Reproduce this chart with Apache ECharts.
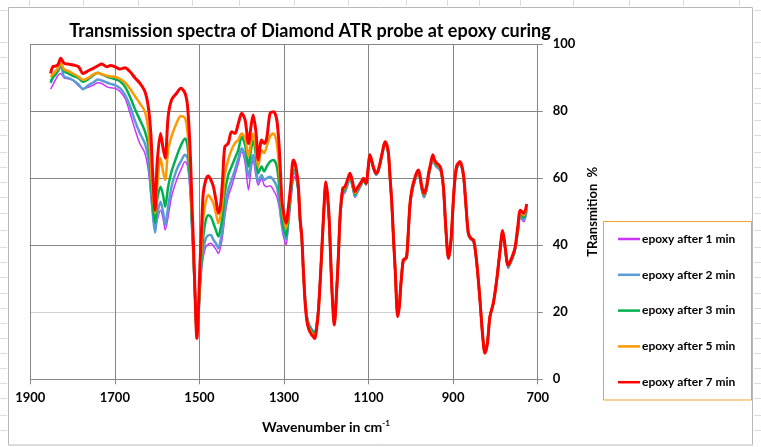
<!DOCTYPE html>
<html><head><meta charset="utf-8">
<script src="https://cdn.jsdelivr.net/npm/echarts@6/dist/echarts.min.js"></script>
<style>html,body{margin:0;padding:0;background:#fff}#c{width:761px;height:447px}</style>
</head><body><div id="c"></div>
<script>
// Wavenumber grid (cm-1)
const wavenumbers = [
  1852,1847,1840,1834,1828,1820,1810,1798,1786,1775,
  1763,1751,1740,1731,1719,1710,1700,1688,1676,1664,
  1652,1641,1629,1621,1615,1611,1605,1600,1592,1586,
  1581,1574,1566,1554,1544,1534,1528,1522,1518,1514,
  1510,1506,1502,1499,1495,1491,1485,1479,1473,1467,
  1461,1455,1450,1445,1440,1432,1424,1416,1408,1400,
  1392,1384,1378,1373,1366,1361,1353,1347,1341,1333,
  1325,1317,1311,1305,1300,1295,1290,1284,1278,1274,
  1270,1266,
  1262,1258,1254,1250,1246,1242,1238,1234,1230,1227,
  1223,1219,1215,1211,1206,1201,1197,1193,1187,1181,
  1175,1171,1167,1161,1156,1150,1144,1138,1132,1127,
  1122,1117,1112,1106,1101,1097,1093,1089,1082,1077,
  1073,1067,1061,1057,1053,1049,1045,1041,1037,1031,
  1027,1024,1018,1014,1010,1006,1002,997,992,987,
  982,978,974,969,963,958,953,948,944,939,
  934,929,923,917,911,905,898,892,884,876,
  870,864,858,852,848,844,840,836,830,825,
  819,813,805,797,789,783,777,770,762,754,
  747,741,733,726
];

const epoxy1min = [
  86.6,87.8,89.5,90.8,91.3,90.0,89.7,89.2,87.6,86.8,
  87.2,87.8,88.5,88.3,87.3,87.0,86.9,85.9,83.9,79.4,
  74.4,70.4,67.5,62.5,55.0,50.0,44.6,47.5,50.5,48.0,
  44.6,48.5,54.5,59.5,62.5,65.0,63.5,56.0,45.5,35.5,
  24.0,13.0,19.0,26.0,32.5,36.5,39.5,40.3,40.6,39.8,
  38.8,37.6,39.5,43.0,48.5,54.5,57.5,61.0,64.5,67.9,
  64.5,56.5,62.5,65.5,60.5,58.0,60.0,58.0,57.5,57.8,
  56.5,54.5,51.0,45.0,42.0,40.1,45.5,53.0,59.5,60.5,
  59.0,55.5,
  47.0,41.6,32.0,24.2,19.2,17.0,15.9,15.0,14.3,13.9,
  16.2,20.6,28.0,37.1,49.1,57.6,53.8,46.8,28.0,17.0,
  27.5,37.4,48.2,55.2,55.6,57.7,59.7,57.3,54.3,55.5,
  56.7,57.9,59.1,58.0,62.3,66.3,64.9,62.9,60.9,61.9,
  63.9,67.4,70.3,69.4,66.9,59.5,52.2,42.0,32.8,19.4,
  22.7,27.8,35.2,35.5,36.1,43.4,51.6,55.8,58.3,60.3,
  61.3,59.3,56.2,54.2,56.2,60.2,63.2,65.7,64.2,63.2,
  62.8,61.9,56.7,44.2,36.1,41.2,55.7,62.5,64.1,60.7,
  52.1,43.2,41.7,41.2,38.7,34.3,29.0,22.8,13.0,8.1,
  11.0,18.7,22.6,29.3,38.0,43.4,38.6,33.1,35.1,38.1,
  43.5,48.3,47.0,50.0
];

const epoxy2min = [
  88.4,90.0,91.3,92.0,93.8,90.3,90.0,89.2,88.0,86.6,
  87.8,88.6,89.5,89.2,88.6,88.2,87.8,86.9,84.9,81.5,
  77.0,73.5,70.4,66.0,57.0,50.5,43.8,49.0,53.0,50.0,
  46.1,51.5,57.5,62.5,65.0,67.0,66.0,58.0,46.5,36.0,
  24.0,13.0,19.5,27.0,34.0,38.5,42.0,43.0,43.1,41.6,
  40.6,39.1,41.5,45.0,50.5,56.5,59.5,62.5,66.0,69.0,
  66.5,60.5,64.5,67.0,62.5,59.0,61.0,59.5,60.0,60.5,
  59.5,57.5,53.0,46.5,43.5,41.6,47.0,54.5,61.5,61.5,
  59.5,56.0,
  47.2,41.8,32.0,24.0,19.0,16.8,15.7,14.8,14.2,13.9,
  16.2,20.6,28.0,37.2,49.3,58.0,54.1,47.0,28.0,17.0,
  27.6,37.6,48.6,55.6,56.0,58.1,60.1,57.6,54.6,55.8,
  57.0,58.2,59.3,58.1,62.5,66.5,65.1,63.1,61.1,62.1,
  64.1,67.6,70.5,69.6,67.1,59.6,52.3,42.0,32.8,19.3,
  22.6,27.8,35.3,35.6,36.2,43.6,51.8,56.1,58.6,60.6,
  61.6,59.6,56.5,54.5,56.5,60.5,63.5,66.0,64.5,63.5,
  63.0,62.1,56.9,44.3,36.1,41.3,55.9,62.7,64.3,60.9,
  52.2,43.3,41.8,41.3,38.8,34.4,29.0,22.8,13.0,8.1,
  11.0,18.7,22.6,29.4,38.2,43.7,38.9,33.4,35.4,38.4,
  44.0,49.0,47.6,50.6
];

const epoxy3min = [
  88.8,90.0,91.0,92.5,94.1,92.0,91.3,90.5,89.9,88.8,
  89.6,90.8,91.5,91.0,90.4,90.0,89.6,89.0,87.3,84.3,
  80.5,77.5,74.0,70.0,60.5,53.0,46.6,53.5,57.5,55.0,
  51.5,57.5,62.0,66.5,69.8,71.9,69.5,60.0,48.0,37.0,
  24.0,12.8,20.0,28.0,36.0,42.5,47.5,49.0,48.5,46.6,
  44.5,42.6,45.0,49.0,55.5,61.0,63.5,66.0,68.5,72.4,
  69.9,63.5,68.5,71.4,66.5,61.5,63.5,62.0,63.5,65.0,
  65.5,63.5,57.0,48.5,45.0,42.6,48.0,55.5,62.5,62.5,
  60.0,56.5,
  47.5,42.0,32.0,23.5,18.5,16.3,15.2,14.4,13.8,13.4,
  15.8,20.3,28.0,37.4,49.6,58.3,54.4,47.2,27.8,16.8,
  27.6,37.8,49.0,56.1,56.6,58.7,60.7,58.2,55.2,56.3,
  57.4,58.5,59.6,58.3,62.8,66.8,65.3,63.3,61.3,62.3,
  64.3,67.8,70.7,69.8,67.3,59.8,52.4,42.0,32.7,19.1,
  22.4,27.7,35.4,35.8,36.4,43.8,52.1,56.5,59.0,61.0,
  62.0,60.0,56.9,54.9,56.9,60.9,63.9,66.4,64.9,63.9,
  63.4,62.4,57.1,44.4,36.1,41.4,56.1,63.0,64.6,61.1,
  52.3,43.4,41.9,41.4,38.9,34.5,29.0,22.8,12.9,8.0,
  10.9,18.7,22.7,29.5,38.4,44.0,39.2,33.7,35.7,38.7,
  44.5,49.5,48.3,51.2
];

const epoxy5min = [
  90.3,91.0,92.0,93.0,94.3,92.5,92.0,91.2,90.3,89.4,
  90.0,91.0,91.4,91.1,90.6,90.4,90.3,89.7,88.6,86.7,
  84.4,82.4,79.9,74.4,64.5,56.5,49.6,57.5,66.0,62.0,
  59.5,68.4,72.5,76.5,78.6,78.0,73.5,63.0,50.0,38.0,
  24.0,12.5,21.0,30.0,40.0,48.0,53.0,55.0,54.0,52.5,
  49.5,46.6,49.0,53.5,61.0,65.5,68.5,70.5,71.5,73.4,
  71.9,66.5,71.0,73.4,68.4,63.5,68.4,67.5,69.5,72.5,
  73.4,70.4,62.0,51.5,47.5,45.1,50.0,57.0,64.5,64.0,
  61.5,57.5,
  48.0,42.6,32.0,23.0,18.0,15.7,14.5,13.7,13.1,12.8,
  15.3,20.0,28.0,37.6,50.0,58.7,54.7,47.4,27.6,16.5,
  27.6,38.0,49.4,56.6,57.1,59.1,61.1,58.6,55.6,56.7,
  57.7,58.8,59.8,58.4,63.0,67.0,65.5,63.5,61.5,62.5,
  64.5,68.0,70.9,70.0,67.5,60.0,52.5,42.0,32.6,18.9,
  22.2,27.6,35.5,35.9,36.5,44.0,52.3,56.8,59.3,61.3,
  62.3,60.3,57.2,55.2,57.2,61.2,64.2,66.7,65.2,64.2,
  63.7,62.7,57.3,44.5,36.1,41.5,56.3,63.3,64.8,61.3,
  52.4,43.5,42.0,41.5,39.0,34.6,29.0,22.7,12.8,7.9,
  10.8,18.7,22.7,29.6,38.5,44.2,39.4,33.9,35.9,38.9,
  45.0,50.0,49.0,51.8
];

const epoxy7min = [
  91.3,93.3,93.5,94.0,95.8,94.3,94.1,93.8,93.3,91.3,
  92.1,92.8,93.6,94.1,93.3,93.7,93.3,92.6,93.0,91.8,
  89.9,88.4,85.9,81.4,73.4,62.5,50.5,64.5,73.4,69.0,
  66.0,78.4,83.4,85.4,86.9,85.4,81.4,68.4,53.5,39.6,
  24.0,12.2,22.0,33.6,45.0,55.5,59.5,60.7,59.5,57.5,
  53.5,49.6,52.0,60.0,69.4,70.4,73.9,73.4,76.4,79.4,
  77.4,70.4,75.5,78.9,73.4,65.5,71.4,70.4,71.9,79.4,
  79.9,77.4,68.4,53.5,49.0,46.6,51.0,58.0,65.5,64.5,
  62.0,57.5,
  48.0,42.6,32.0,22.7,17.5,15.2,14.0,13.2,12.6,12.2,
  15.0,19.7,28.0,37.6,50.0,59.0,55.0,47.6,27.6,16.2,
  27.6,38.0,49.6,57.0,57.5,59.5,61.5,59.0,56.0,57.0,
  58.0,59.0,60.0,58.5,63.0,67.0,65.5,63.5,61.5,62.5,
  64.5,68.0,70.9,70.0,67.5,60.0,52.5,42.0,32.6,18.7,
  22.0,27.6,35.6,36.0,36.6,44.0,52.5,57.0,59.5,61.5,
  62.5,60.5,57.5,55.5,57.5,61.5,64.5,67.0,65.5,64.5,
  64.0,63.0,57.5,44.6,36.1,41.6,56.5,63.5,65.0,61.5,
  52.5,43.6,42.1,41.6,39.0,34.6,29.0,22.7,12.7,7.8,
  10.7,18.7,22.7,29.6,38.6,44.4,39.6,34.1,36.1,39.1,
  45.6,50.5,49.6,52.3
];

const seriesNames = ['epoxy after 1 min','epoxy after 2 min','epoxy after 3 min','epoxy after 5 min','epoxy after 7 min'];
const seriesValues = [epoxy1min, epoxy2min, epoxy3min, epoxy5min, epoxy7min];
const seriesColors = ['#cc33ff','#5b9bd5','#00b050','#ff9900','#ff0000'];
const seriesWidths = [1.5, 2.5, 2.5, 2.5, 3];

const FONT = 'Lato';
const chart = echarts.init(document.getElementById('c'), null, {renderer:'canvas'});

// light spreadsheet cell lines outside chart frame
const sheetRows = [10,42,57,73,88,103,120,135,152,167,182,197,213,230,247,262,277,293,308,323,338,353,368,383,398,415,430];
const sheetCols = [29,83,138,192,239,294,348,406,447,479,520,573,629,683,739];
const sheetLines = [];
sheetRows.forEach(y => {
  sheetLines.push({type:'line', silent:true, shape:{x1:0,y1:y+0.5,x2:7,y2:y+0.5}, style:{stroke:'#dcdcdc',lineWidth:1}});
  sheetLines.push({type:'line', silent:true, shape:{x1:754,y1:y+0.5,x2:761,y2:y+0.5}, style:{stroke:'#dcdcdc',lineWidth:1}});
});
sheetCols.forEach(x => {
  sheetLines.push({type:'line', silent:true, shape:{x1:x+0.5,y1:0,x2:x+0.5,y2:6}, style:{stroke:'#dcdcdc',lineWidth:1}});
});

chart.setOption({
  animation:false,
  backgroundColor:'#fff',
  grid:{left:30.3, right:223.3, top:44.3, bottom:67.7, containLabel:false},
  xAxis:{
    type:'value', min:700, max:1900, interval:200, inverse:true,
    axisLine:{show:true, onZero:false, lineStyle:{color:'#868686', width:1}},
    axisTick:{show:true, length:5, lineStyle:{color:'#868686'}},
    axisLabel:{color:'#000', fontFamily:FONT, fontSize:13, fontWeight:'bold', margin:12, formatter:v => String(v)},
    splitLine:{show:true, lineStyle:{color:'#868686', width:1}}
  },
  yAxis:{
    type:'value', position:'right', min:0, max:100, interval:20,
    name:'TRansmition  %', nameLocation:'middle', nameGap:45, nameRotate:90,
    nameTextStyle:{color:'#000', fontFamily:FONT, fontSize:13, fontWeight:'bold'},
    axisLine:{show:true, lineStyle:{color:'#868686', width:1}},
    axisTick:{show:true, length:5, lineStyle:{color:'#868686'}},
    axisLabel:{color:'#000', fontFamily:FONT, fontSize:13, fontWeight:'bold', margin:15},
    splitLine:{show:true, lineStyle:{color:['#868686','#d0d0d0','#868686','#868686','#868686','#868686'], width:1}}
  },
  legend:{
    orient:'vertical', left:613, top:227, padding:5, itemWidth:22, itemHeight:2.5, itemGap:21.8,
    icon:'rect',
    data:seriesNames,
    textStyle:{color:'#000', fontFamily:FONT, fontSize:12, fontWeight:'bold', lineHeight:14, padding:[0,0,0,-3]}
  },
  graphic:[
    ...sheetLines,
    {type:'rect', silent:true, z:-1, shape:{x:8.5,y:7.5,width:744,height:437.5}, style:{fill:'#fff', stroke:'#b8b8b8', lineWidth:1}},
    {type:'rect', silent:true, shape:{x:603.5,y:221.5,width:148,height:178.5}, style:{fill:'none', stroke:'#f4a12f', lineWidth:1}},
    {type:'text', silent:true, x:310, y:31, style:{text:'Transmission spectra of Diamond ATR probe at epoxy curing', fill:'#000', font:'bold 18px '+FONT, align:'center', verticalAlign:'middle'}},
    {type:'text', silent:true, x:326, y:427, style:{
      text:'{a|Wavenumber in cm}{b|-1}', align:'center', verticalAlign:'middle',
      rich:{a:{fill:'#000', fontFamily:FONT, fontSize:14, fontWeight:'bold', lineHeight:16},
            b:{fill:'#000', fontFamily:FONT, fontSize:8, fontWeight:'bold', verticalAlign:'top', lineHeight:8}}
    }}
  ],
  series: seriesValues.map((vals, k) => ({
    name: seriesNames[k],
    type:'line',
    data: wavenumbers.map((w, i) => [w, vals[i]]),
    symbol:'none', showSymbol:false, smooth:0.3,
    color: seriesColors[k],
    lineStyle:{color:seriesColors[k], width:seriesWidths[k]},
    z: 2 + k
  }))
});
</script></body></html>
